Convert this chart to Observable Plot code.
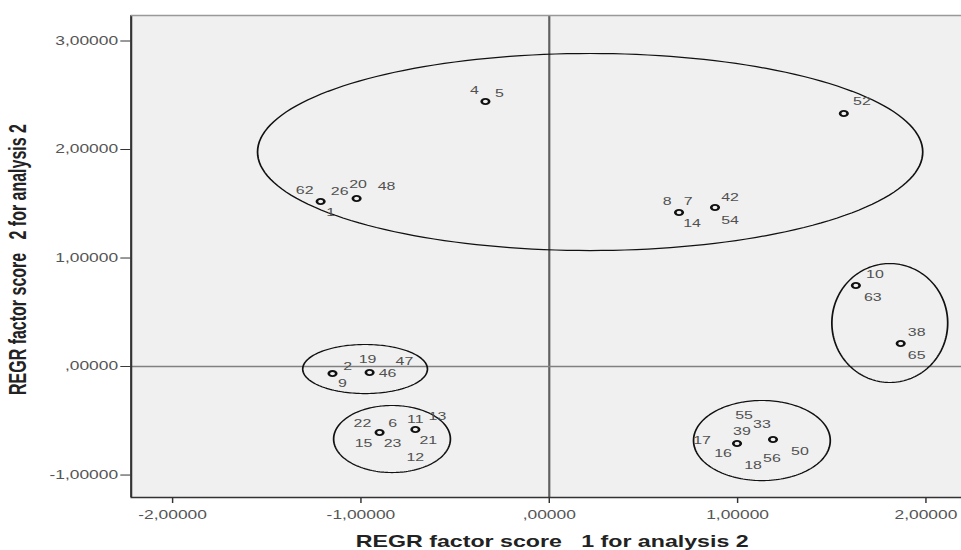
<!DOCTYPE html>
<html><head><meta charset="utf-8">
<script src="https://cdn.jsdelivr.net/npm/d3@7"></script>
<script src="https://cdn.jsdelivr.net/npm/@observablehq/plot@0.6"></script>
<style>
html,body{margin:0;padding:0;background:#fff;}
#chart svg text{white-space:pre;}
</style></head><body><div id="chart"></div>
<script>
// axis ticks and labels
const xTicks = [-2, -1, 0, 1, 2];
const xTickLabels = ["-2,00000", "-1,00000", ",00000", "1,00000", "2,00000"];
const yTicks = [-1, 0, 1, 2, 3];
const yTickLabels = ["-1,00000", ",00000", "1,00000", "2,00000", "3,00000"];
const xTitle = "REGR factor score   1 for analysis 2";
const yTitle = "REGR factor score   2 for analysis 2";
const xDomain = [-2.22, 2.19];
const yDomain = [-1.207, 3.235];

// case markers (overlapping cases share one marker)
const pointX = [-0.339, 1.564, -1.214, -1.023, 0.689, 0.880, 1.628, 1.866, -1.151, -0.954, -0.901, -0.711, 0.997, 1.188];
const pointY = [2.442, 2.332, 1.521, 1.548, 1.419, 1.465, 0.747, 0.212, -0.065, -0.055, -0.608, -0.581, -0.710, -0.673];

// case labels and where they sit (data units)
const labelText = ["4", "5", "62", "26", "20", "48", "1", "8", "7", "14", "42", "54", "52", "10", "63", "38", "65",
  "2", "9", "19", "47", "46", "22", "6", "11", "13", "15", "23", "21", "12", "55", "33", "39", "17", "16", "18", "56", "50"];
const labelX = [-0.398, -0.265, -1.299, -1.113, -1.015, -0.864, -1.161, 0.626, 0.737, 0.758, 0.960, 0.960, 1.660, 1.729, 1.718, 1.951, 1.951,
  -1.071, -1.098, -0.965, -0.769, -0.859, -0.992, -0.832, -0.711, -0.594, -0.986, -0.832, -0.642, -0.711, 1.034, 1.129, 1.023, 0.811, 0.923, 1.082, 1.182, 1.331];
const labelY = [2.544, 2.516, 1.622, 1.613, 1.678, 1.659, 1.419, 1.521, 1.521, 1.318, 1.558, 1.346, 2.442, 0.848, 0.636, 0.313, 0.101,
  0.000, -0.157, 0.065, 0.046, -0.065, -0.525, -0.525, -0.488, -0.461, -0.710, -0.710, -0.682, -0.839, -0.452, -0.535, -0.599, -0.682, -0.802, -0.912, -0.848, -0.783];

// cluster ellipses (centre and radii, data units)
const ellCx = [0.217, -0.978, -0.835, 1.129, 1.808];
const ellCy = [1.977, -0.023, -0.668, -0.682, 0.401];
const ellRx = [1.766, 0.331, 0.310, 0.363, 0.3075];
const ellRy = [0.908, 0.226, 0.309, 0.369, 0.548];

const ellPts = [];
ellCx.forEach((cx, i) => {
  for (let a = 0; a <= 360; a += 2) {
    const t = a * Math.PI / 180;
    ellPts.push({e: i, x: cx + ellRx[i] * Math.cos(t), y: ellCy[i] + ellRy[i] * Math.sin(t)});
  }
});

const W = 663; // drawn narrow, then stretched horizontally like the reference
const svg = Plot.plot({
  width: W, height: 550,
  marginLeft: 90, marginRight: 0, marginTop: 15, marginBottom: 53,
  style: {fontFamily: "'Liberation Sans', Arial, sans-serif", fontSize: "12px", background: "transparent"},
  x: {domain: xDomain},
  y: {domain: yDomain},
  marks: [
    Plot.frame({fill: "#f0f0f0", stroke: null}),
    Plot.ruleX([0], {stroke: "#606060", strokeWidth: 1.5}),
    Plot.ruleY([0], {stroke: "#808080", strokeWidth: 1.6}),
    Plot.ruleX([xDomain[0]], {stroke: "#333", strokeWidth: 1.5}),
    Plot.ruleY([yDomain[0]], {stroke: "#333", strokeWidth: 1.5}),
    Plot.ruleY([yDomain[1]], {stroke: "#999", strokeWidth: 1.5}),
    Plot.line(ellPts, {x: "x", y: "y", z: "e", stroke: "#111", strokeWidth: 1.2}),
    Plot.text(labelText, {x: (d, i) => labelX[i], y: (d, i) => labelY[i], text: d => d, fontSize: 11, fill: "#505050"}),
    Plot.dot(pointX, {x: d => d, y: (d, i) => pointY[i], r: 2.6, stroke: "#111", strokeWidth: 1.8, fill: "none"}),
    Plot.axisX({ticks: xTicks, tickFormat: d => xTickLabels[xTicks.indexOf(d)], tickSize: 6, tickPadding: 7, label: null, color: "#333", fontSize: 12}),
    Plot.axisY({ticks: yTicks, tickFormat: d => yTickLabels[yTicks.indexOf(d)], tickSize: 7, tickPadding: 2, label: null, color: "#333", fontSize: 12}),
    Plot.text([xTitle], {frameAnchor: "bottom", lineAnchor: "middle", dy: 44, dx: 4, text: d => d, fontSize: 16, fontWeight: "bold", fill: "#222"}),
    Plot.text([yTitle], {frameAnchor: "left", textAnchor: "middle", lineAnchor: "middle", dx: -78, dy: 3, rotate: -90, text: d => d, fontSize: 16, fontWeight: "bold", fill: "#222"})
  ]
});
svg.querySelectorAll('g[aria-label$="tick label"]').forEach(g => g.setAttribute("fill", "#555"));
svg.setAttribute("width", 961);
svg.setAttribute("height", 550);
svg.setAttribute("viewBox", `0 0 ${W} 550`);
svg.setAttribute("preserveAspectRatio", "none");
svg.style.width = "961px";
svg.style.height = "550px";
svg.style.maxWidth = "none";
svg.style.display = "block";
document.getElementById("chart").appendChild(svg);
</script></body></html>
